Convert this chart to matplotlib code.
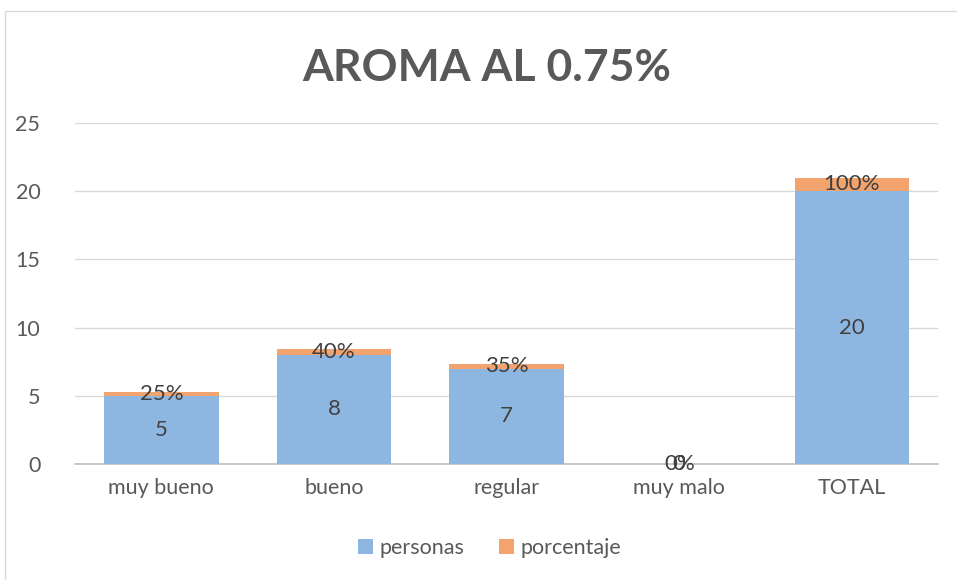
import matplotlib
matplotlib.use("Agg")
import matplotlib.pyplot as plt
from matplotlib.patches import Rectangle

plt.rcParams["font.family"] = ["Lato", "DejaVu Sans"]

categorias = ["muy bueno", "bueno", "regular", "muy malo", "TOTAL"]
personas = [5, 8, 7, 0, 20]
porcentaje = [0.25, 0.40, 0.35, 0.0, 1.0]
porcentaje_txt = ["25%", "40%", "35%", "0%", "100%"]

azul = "#8DB7E1"
naranja = "#F2A36E"
gris = "#595959"

fig = plt.figure(figsize=(9.57, 5.8), dpi=100)
ax = fig.add_axes([0.0784, 0.2, 0.902, 0.588])

x = range(len(categorias))
ax.bar(x, personas, width=0.665, color=azul, label="personas", zorder=2)
ax.bar(x, porcentaje, width=0.665, bottom=personas, color=naranja,
       label="porcentaje", zorder=2)

# etiquetas de datos: valor en el centro de cada segmento
for i, (p, q) in enumerate(zip(personas, porcentaje)):
    ax.text(i, p / 2, str(p), ha="center", va="center", fontsize=16,
            color="#404040", zorder=3)
    ax.text(i, p + q / 2, porcentaje_txt[i], ha="center", va="center",
            fontsize=16, color="#404040", zorder=3)

ax.set_xlim(-0.5, 4.5)
ax.set_ylim(0, 25)
ax.set_yticks([0, 5, 10, 15, 20, 25])
ax.set_xticks(list(x))
ax.set_xticklabels(categorias)
ax.tick_params(axis="both", length=0, labelsize=15.5, labelcolor=gris)
ax.tick_params(axis="y", pad=25)
ax.tick_params(axis="x", pad=10)
ax.yaxis.grid(True, color="#D9D9D9", linewidth=1, zorder=0)
ax.set_axisbelow(True)
for s in ["top", "right", "left"]:
    ax.spines[s].set_visible(False)
ax.spines["bottom"].set_color("#BFBFBF")
ax.spines["bottom"].set_linewidth(1.2)
ax.spines["bottom"].set_zorder(1)

fig.text(0.509, 0.883, "AROMA AL 0.75%", ha="center", va="center",
         fontsize=32, fontweight="bold", color=gris)

leg = fig.legend(loc="center", bbox_to_anchor=(0.512, 0.055), ncol=2,
                 frameon=False, fontsize=15.5, handlelength=0.7,
                 handleheight=0.7, columnspacing=1.6, handletextpad=0.3)
for t in leg.get_texts():
    t.set_color(gris)

fig.patches.append(Rectangle((5 / 957, -0.1), 1.1, 1.1 - 11 / 580,
                             transform=fig.transFigure, fill=False,
                             edgecolor="#D9D9D9", linewidth=1))

fig.savefig("out.png", dpi=100)
